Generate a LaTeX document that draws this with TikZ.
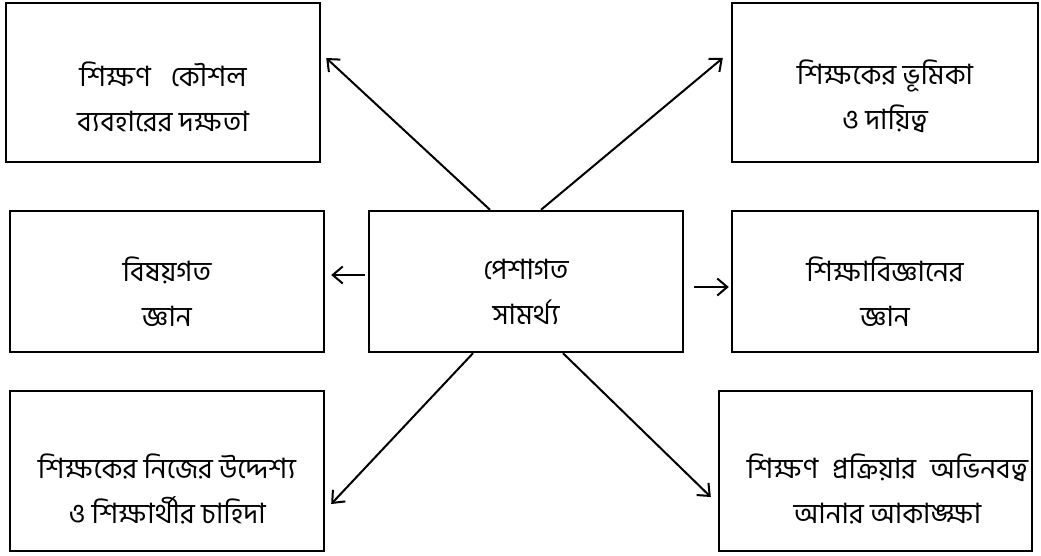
\documentclass[tikz,border=0pt]{standalone}
\usepackage{fontspec}
\newfontfamily\bengfont[Script=Bengali]{Hind Siliguri}
\usetikzlibrary{arrows.meta}

\begin{document}
\begin{tikzpicture}[
    x=1pt, y=-1pt, % work in pixels of the layout
    >={Straight Barb[length=10pt,width=17pt]}, % open arrow tips
    box/.style={draw, line width=2.4pt}, % style for every frame
    txt/.style={align=center, font=\bengfont\fontsize{28}{45}\selectfont}, % style for the texts in the frames
    link/.style={->, line width=2pt} % style for the connectors
  ]
  \useasboundingbox (0,0) rectangle (1041,555);

  % --- Frames ---
  \node[box, minimum width=314pt, minimum height=159pt] (tl) at (163,82.5) {};
  \node[box, minimum width=306pt, minimum height=159pt] (tr) at (885,82.5) {};
  \node[box, minimum width=314pt, minimum height=141pt] (ml) at (167,281.5) {};
  \node[box, minimum width=314pt, minimum height=141pt] (cen) at (526,281.5) {}; % centre frame
  \node[box, minimum width=306pt, minimum height=141pt] (mr) at (885,281.5) {};
  \node[box, minimum width=314pt, minimum height=160pt] (bl) at (167,471) {};
  \node[box, minimum width=313pt, minimum height=160pt] (br) at (875.5,471) {};

  % --- Texts (set a little below the middle) ---
  \node[txt] (tl-t) at ([yshift=-14pt]tl.center) {শিক্ষণ\hspace{20pt}কৌশল\\ব্যবহারের দক্ষতা};
  \node[txt] (tr-t) at ([yshift=-14pt]tr.center) {শিক্ষকের ভূমিকা\\ও দায়িত্ব};
  \node[txt] (ml-t) at ([yshift=-10pt]ml.center) {বিষয়গত\\জ্ঞান};
  \node[txt] (cen-t) at ([yshift=-10pt]cen.center) {পেশাগত\\সামর্থ্য};
  \node[txt] (mr-t) at ([yshift=-10pt]mr.center) {শিক্ষাবিজ্ঞানের\\জ্ঞান};
  \node[txt] (bl-t) at ([yshift=-18pt]bl.center) {শিক্ষকের নিজের উদ্দেশ্য\\ও শিক্ষার্থীর চাহিদা};
  \node[txt] (br-t) at ([xshift=12pt,yshift=-18pt]br.center) {শিক্ষণ\hspace{14pt}প্রক্রিয়ার\hspace{14pt}অভিনবত্ব\\আনার আকাঙ্ক্ষা};

  % --- Connectors from the centre frame ---
  \draw[link] ([xshift=-36pt]cen.north) -- ([xshift=5pt,yshift=24.5pt]tl.east);
  \draw[link] ([xshift=15pt]cen.north) -- ([xshift=-8pt,yshift=24.5pt]tr.west);
  \draw[link] ([xshift=-3pt,yshift=6.5pt]cen.west) -- ([xshift=6pt,yshift=6.5pt]ml.east);
  \draw[link] ([xshift=10pt,yshift=-5.5pt]cen.east) -- ([xshift=-2pt,yshift=-5.5pt]mr.west);
  \draw[link] ([xshift=-53pt]cen.south) -- ([xshift=6pt,yshift=-33pt]bl.east);
  \draw[link] ([xshift=37pt]cen.south) -- ([xshift=-7pt,yshift=-26pt]br.west);

\end{tikzpicture}
\end{document}
